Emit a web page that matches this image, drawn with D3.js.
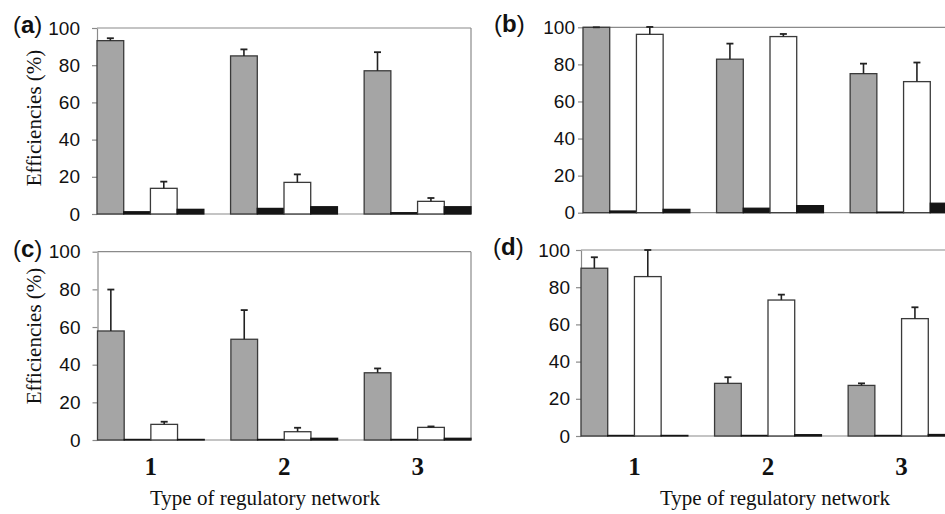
<!DOCTYPE html>
<html>
<head>
<meta charset="utf-8">
<script src="https://cdn.jsdelivr.net/npm/d3@7"></script>
<style>
    body { margin: 0; background: #fff; }
    .axis text { font-family: "Liberation Sans", Arial, sans-serif; font-size: 19px; fill: #111; }
    .axis path, .axis line { stroke: #8a8a8a; stroke-width: 1.2; }
    .panelLabel { font-family: "Liberation Sans", Arial, sans-serif; font-size: 24px; fill: #111; }
    .yTitle, .xTitle { font-family: "Liberation Serif", "Times New Roman", serif; font-size: 21px; fill: #111; }
    .catLabel { font-family: "Liberation Serif", "Times New Roman", serif; font-size: 25px; font-weight: bold; fill: #111; }
</style>
</head>
<body>
<script>
//chart data
var categories = ["1", "2", "3"];
var series = ["gray", "black1", "white", "black2"];
var tickValues = [0, 20, 40, 60, 80, 100];

//values per category: [gray, black, white, black]
var aValues = [[93.2, 1.2, 13.8, 2.5], [85, 3, 17, 3.9], [77, 0.7, 6.8, 3.9]];
var aErrors = [[1.3, 0, 3.6, 0], [3.5, 0, 4.3, 0], [10, 0, 1.8, 0]];

var bValues = [[100, 0.9, 96.2, 1.8], [82.8, 2.4, 95, 3.8], [75, 0.3, 70.7, 5.1]];
var bErrors = [[0, 0, 4, 0], [8.4, 0, 1.4, 0], [5.4, 0, 10.3, 0]];

var cValues = [[57.9, 0.3, 8.3, 0.3], [53.5, 0.3, 4.4, 0.9], [35.7, 0.3, 6.7, 0.9]];
var cErrors = [[22, 0, 1.4, 0], [15.5, 0, 2.1, 0], [2.3, 0, 0.5, 0]];

var dValues = [[90.2, 0.3, 85.7, 0.3], [28.3, 0.3, 73.1, 0.7], [27.2, 0.3, 63.1, 0.8]];
var dErrors = [[5.9, 0, 14.3, 0], [3.3, 0, 2.9, 0], [1.1, 0, 6.1, 0]];

var panelNames = ["a", "b", "c", "d"];
var yTitle = "Efficiencies (%)";
var xTitle = "Type of regulatory network";

window.onload = function(){

    var w = 945, h = 514;

    var svg = d3.select("body")
        .append("svg")
        .attr("width", w)
        .attr("height", h);

    //panel layout
    var layout = [
        { values: aValues, errors: aErrors, left: 97, right: 471, top: 28, bottom: 214, pad: 17, lab: [13, 33], yT: [41, 118], cats: false },
        { values: bValues, errors: bErrors, left: 583, right: 957, top: 27.3, bottom: 212.7, pad: 8, lab: [494, 32], yT: null, cats: false },
        { values: cValues, errors: cErrors, left: 97.5, right: 471, top: 251.7, bottom: 440, pad: 17, lab: [13, 257], yT: [41, 336], cats: true, xT: 265 },
        { values: dValues, errors: dErrors, left: 581, right: 955, top: 250, bottom: 436, pad: 11, lab: [493, 255], yT: null, cats: true, xT: 775 }
    ];

    var fills = { gray: "#a5a5a5", black1: "#151515", white: "#ffffff", black2: "#151515" };
    var strokes = { gray: "#3a3a3a", black1: "#151515", white: "#3a3a3a", black2: "#151515" };

    layout.forEach(function(p, pi){

        var g = svg.append("g").attr("class", "panel");

        var x = d3.scaleBand()
            .domain(categories)
            .range([p.left, p.right])
            .paddingInner(0.2)
            .paddingOuter(0);

        var xs = d3.scaleBand()
            .domain(series)
            .range([0, x.bandwidth()]);

        var y = d3.scaleLinear()
            .domain([0, 100])
            .range([p.bottom, p.top]);

        //frame lines (top, right, bottom)
        g.append("line")
            .attr("x1", p.left).attr("x2", p.right)
            .attr("y1", y(100)).attr("y2", y(100))
            .style("stroke", "#8a8a8a").style("stroke-width", 1.2);
        g.append("line")
            .attr("x1", p.right).attr("x2", p.right)
            .attr("y1", y(100)).attr("y2", y(0))
            .style("stroke", "#8a8a8a").style("stroke-width", 1.2);
        g.append("line")
            .attr("x1", p.left).attr("x2", p.right)
            .attr("y1", y(0)).attr("y2", y(0))
            .style("stroke", "#8a8a8a").style("stroke-width", 1.2);

        //y axis
        g.append("g")
            .attr("class", "axis")
            .attr("transform", "translate(" + p.left + ",0)")
            .call(d3.axisLeft(y)
                .tickValues(tickValues)
                .tickSize(5)
                .tickSizeOuter(0)
                .tickPadding(p.pad - 5));

        //bars
        var groups = g.selectAll(".grp")
            .data(p.values)
            .enter()
            .append("g")
            .attr("class", "grp")
            .attr("transform", function(d, i){
                return "translate(" + x(categories[i]) + ",0)";
            });

        groups.selectAll("rect")
            .data(function(d, i){
                return d.map(function(v, j){
                    return { s: series[j], v: v, e: p.errors[i][j] };
                });
            })
            .enter()
            .append("rect")
            .attr("x", function(d){ return xs(d.s); })
            .attr("width", xs.bandwidth())
            .attr("y", function(d){ return y(d.v); })
            .attr("height", function(d){ return y(0) - y(d.v); })
            .style("fill", function(d){ return fills[d.s]; })
            .style("stroke", function(d){ return strokes[d.s]; })
            .style("stroke-width", 1.3);

        //error bars
        var errs = groups.selectAll(".err")
            .data(function(d, i){
                return d.map(function(v, j){
                    return { s: series[j], v: v, e: p.errors[i][j] };
                }).filter(function(d){ return d.s == "gray" || d.s == "white"; });
            })
            .enter()
            .append("g")
            .attr("class", "err");

        errs.append("line")
            .attr("x1", function(d){ return xs(d.s) + xs.bandwidth() / 2; })
            .attr("x2", function(d){ return xs(d.s) + xs.bandwidth() / 2; })
            .attr("y1", function(d){ return y(d.v); })
            .attr("y2", function(d){ return y(d.v + d.e); })
            .style("stroke", "#222").style("stroke-width", 1.6);

        errs.append("line")
            .attr("x1", function(d){ return xs(d.s) + xs.bandwidth() / 2 - 3.5; })
            .attr("x2", function(d){ return xs(d.s) + xs.bandwidth() / 2 + 3.5; })
            .attr("y1", function(d){ return y(d.v + d.e); })
            .attr("y2", function(d){ return y(d.v + d.e); })
            .style("stroke", "#222").style("stroke-width", 1.8);

        //panel letter
        var lab = g.append("text")
            .attr("class", "panelLabel")
            .attr("x", p.lab[0])
            .attr("y", p.lab[1]);
        lab.append("tspan").text("(");
        lab.append("tspan").style("font-weight", "bold").text(panelNames[pi]);
        lab.append("tspan").text(")");

        //y title
        if (p.yT) {
            g.append("text")
                .attr("class", "yTitle")
                .attr("text-anchor", "middle")
                .attr("transform", "translate(" + p.yT[0] + "," + p.yT[1] + ") rotate(-90)")
                .text(yTitle);
        }

        //category labels and x title
        if (p.cats) {
            var cax = g.append("g")
                .attr("transform", "translate(0," + p.bottom + ")")
                .call(d3.axisBottom(x).tickSize(0));
            cax.select(".domain").remove();
            cax.selectAll("text")
                .attr("class", "catLabel")
                .attr("font-family", null)
                .attr("font-size", null)
                .attr("y", 475 - p.bottom)
                .attr("dy", 0);

            g.append("text")
                .attr("class", "xTitle")
                .attr("text-anchor", "middle")
                .attr("x", p.xT)
                .attr("y", 505)
                .text(xTitle);
        }
    });
};
</script>
</body>
</html>
